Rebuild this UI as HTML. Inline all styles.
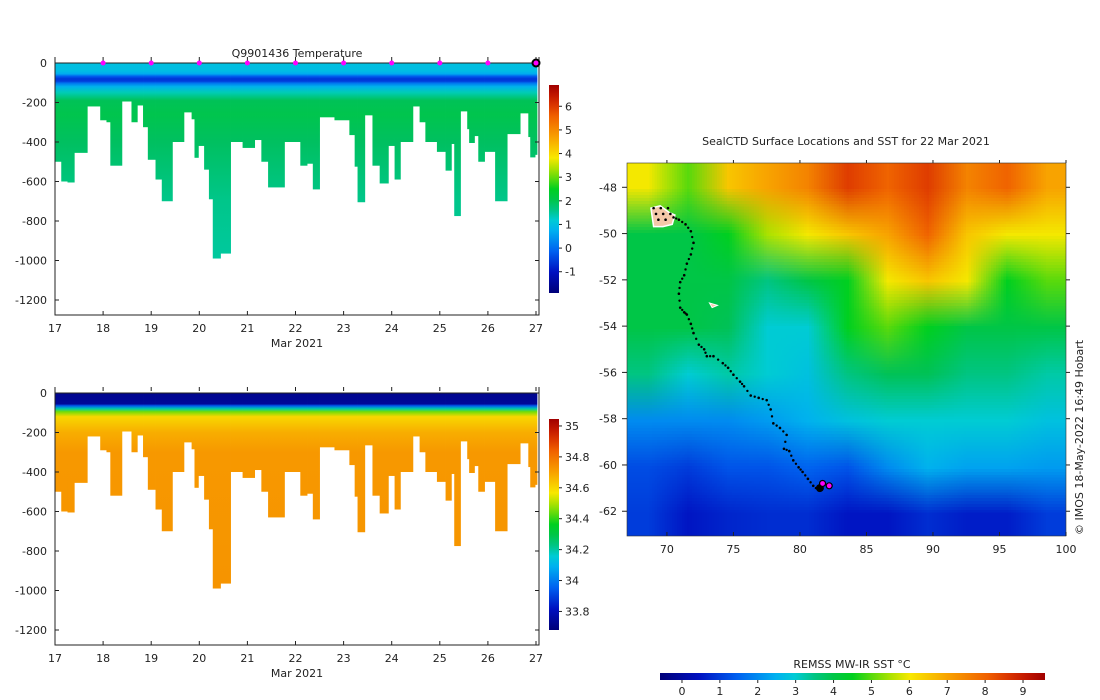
<!DOCTYPE html>
<html><head><meta charset="utf-8">
<style>
html,body{margin:0;padding:0;background:#fff;}
#wrap{position:relative;width:1100px;height:700px;overflow:hidden;font-family:"DejaVu Sans","Liberation Sans",sans-serif;}
svg{position:absolute;left:0;top:0;}
canvas{position:absolute;}
text{font-family:"DejaVu Sans","Liberation Sans",sans-serif;fill:#222;font-size:11px;}
</style></head>
<body>
<div id="wrap">
<canvas id="sst" width="11" height="8" style="left:627px;top:163px;width:439px;height:373px;"></canvas>
<svg id="fig" width="1100" height="700"></svg>
</div>
<script>
// ---- data ----
const profileStart=[17.00,17.13,17.26,17.40,17.67,17.94,18.07,18.15,18.39,18.59,18.71,18.83,18.93,19.09,19.22,19.44,19.68,19.84,19.90,19.98,20.10,20.20,20.28,20.44,20.65,20.90,21.15,21.29,21.43,21.77,22.10,22.24,22.36,22.50,22.81,23.12,23.23,23.29,23.44,23.60,23.75,23.93,24.06,24.18,24.44,24.58,24.70,24.94,25.12,25.24,25.30,25.43,25.57,25.61,25.72,25.80,25.93,26.15,26.40,26.67,26.84,26.88,26.98];
const profileEnd=27.02;
const profileDepth=[500,600,605,455,220,290,300,520,195,300,215,325,490,590,700,400,250,285,480,420,540,690,990,965,400,430,390,500,630,400,520,510,640,275,290,365,525,705,265,520,610,420,590,400,220,300,400,450,545,410,775,245,335,405,370,500,450,700,360,255,375,478,465];
const tempDepths=[0,40,55,68,80,92,102,120,150,190,260,400,700,1000];
const tempValues=[1.0,0.95,0.7,-0.2,-0.6,-0.5,0.1,0.8,1.4,1.9,2.0,1.8,1.6,1.5];
const salDepths=[0,55,65,80,95,120,200,300,1000];
const salValues=[33.72,33.74,33.95,34.2,34.45,34.6,34.68,34.72,34.73];
const dayTicks=[17,18,19,20,21,22,23,24,25,26,27];
const depthTicks=[0,-200,-400,-600,-800,-1000,-1200];
const tempCbTicks=[-1,0,1,2,3,4,5,6];
const salCbTicks=[33.8,34,34.2,34.4,34.6,34.8,35];
const surfaceDays=[18,19,20,21,22,23,24,25,26];
const lonTicks=[70,75,80,85,90,95,100];
const latTicks=[-48,-50,-52,-54,-56,-58,-60,-62];
const sstTicks=[0,1,2,3,4,5,6,7,8,9];
const sstGrid=[
[6,5,6.5,7,7.5,8.5,8,8.5,7.5,8,7],
[4,4,4.5,5.5,6,6.5,7,8,6.5,6,6],
[4,4,4,3.5,4,4.5,6,6.5,6,4.5,5],
[4,4,3.8,3,3,4.5,5,4.5,4,4,4],
[3.5,3,3.3,3,2.8,3.5,3.8,3.8,3.5,3.5,3.3],
[2,2,2,2.2,2.5,2.8,3,3,3,3,2.8],
[1.2,1,1.3,1.3,1.5,1.3,2,2.5,2.3,2.3,2.2],
[1,0.5,0.7,0.8,0.8,0.5,0.5,0.8,0.6,0.6,1]];
const trackLon=[70.5,70.9,71.4,71.8,72.0,71.8,71.5,71.3,71.0,70.9,71.0,71.3,71.5,71.8,72.0,72.4,72.8,73.0,73.5,74.2,74.6,75.0,75.5,75.8,76.3,76.9,77.5,77.8,78.0,78.5,79.0,78.8,79.2,79.5,79.9,80.2,80.6,81.0,81.4];
const trackLat=[-49.3,-49.4,-49.6,-49.9,-50.4,-50.9,-51.3,-51.8,-52.1,-52.6,-53.2,-53.4,-53.5,-53.9,-54.3,-54.8,-55.0,-55.3,-55.3,-55.6,-55.8,-56.1,-56.4,-56.6,-57.0,-57.1,-57.2,-57.6,-58.2,-58.4,-58.7,-59.3,-59.4,-59.8,-60.1,-60.3,-60.6,-60.9,-61.1];
const lastLon=[81.7,82.2];
const lastLat=[-60.8,-60.9];

// ---- helpers ----
const NS='http://www.w3.org/2000/svg';
const svg=document.getElementById('fig');
function mk(tag,attrs,parent){const e=document.createElementNS(NS,tag);for(const k in attrs)e.setAttribute(k,attrs[k]);(parent||svg).appendChild(e);return e;}
const stops=[[0,'#000078'],[0.1,'#0010c0'],[0.2,'#0060f0'],[0.3,'#00b0f0'],[0.36,'#00d0d0'],[0.42,'#00c060'],[0.5,'#00d020'],[0.58,'#90e000'],[0.65,'#f8e800'],[0.75,'#f8a000'],[0.85,'#f06000'],[0.93,'#d02000'],[1,'#a00000']];
function hex(c){return [parseInt(c.substr(1,2),16),parseInt(c.substr(3,2),16),parseInt(c.substr(5,2),16)];}
function cmap(t){t=Math.max(0,Math.min(1,t));for(let i=1;i<stops.length;i++){if(t<=stops[i][0]){const a=hex(stops[i-1][1]),b=hex(stops[i][1]);const f=(t-stops[i-1][0])/(stops[i][0]-stops[i-1][0]);return a.map((v,j)=>Math.round(v+(b[j]-v)*f));}}return hex(stops[stops.length-1][1]);}
function rgb(a){return 'rgb('+a.join(',')+')';}
const defs=mk('defs',{});

function depthPanel(opt){
  const L=55,R=539,y0=opt.y0,yb=opt.y0+252;
  const xs=d=>L+(d-17)*(R-3-L)/10;
  const ys=z=>y0+(-z)*(237/1200);
  const g=mk('g',{});
  const gid=opt.name+'-grad';
  const lg=mk('linearGradient',{id:gid,gradientUnits:'userSpaceOnUse',x1:0,y1:ys(0),x2:0,y2:ys(-1000)},defs);
  opt.depths.forEach((d,i)=>{mk('stop',{offset:d/1000,'stop-color':rgb(cmap((opt.vals[i]-opt.vmin)/(opt.vmax-opt.vmin)))},lg);});
  const cols=mk('g',{},g);
  profileStart.forEach((s,i)=>{
    const e=i+1<profileStart.length?profileStart[i+1]:profileEnd;
    const r=mk('rect',{x:xs(s),y:ys(0),width:xs(e)-xs(s)+0.4,height:ys(-profileDepth[i])-ys(0),fill:'url(#'+gid+')'},cols);
    
    
  });
  mk('path',{d:`M${L},${y0-6}V${yb}H${R}V${y0-6}`,fill:'none',stroke:'#222','stroke-width':1},g);
  mk('line',{x1:L,y1:y0,x2:R,y2:y0,stroke:'#222','stroke-width':1},g);
  depthTicks.forEach(t=>{const y=ys(t);
    mk('line',{x1:L,y1:y,x2:L+4,y2:y,stroke:'#222'},g);mk('line',{x1:R-4,y1:y,x2:R,y2:y,stroke:'#222'},g);
    const tx=mk('text',{x:L-8,y:y+4,'text-anchor':'end'},g);tx.textContent=t;
    });
  dayTicks.forEach(d=>{const x=xs(d);
    mk('line',{x1:x,y1:yb,x2:x,y2:yb-4,stroke:'#222'},g);mk('line',{x1:x,y1:y0-6,x2:x,y2:y0-2,stroke:'#222'},g);
    const tx=mk('text',{x:x,y:yb+17,'text-anchor':'middle'},g);tx.textContent=d;
    });
  const xl=mk('text',{x:297,y:yb+32,'text-anchor':'middle'},g);xl.textContent='Mar 2021';
  
  const cb=mk('g',{},g);
  const cy0=opt.cbTop,cy1=opt.cbBot;
  const cgid=opt.name+'-cb';
  const clg=mk('linearGradient',{id:cgid,x1:0,y1:1,x2:0,y2:0},defs);
  for(let i=0;i<=20;i++)mk('stop',{offset:i/20,'stop-color':rgb(cmap(i/20))},clg);
  mk('rect',{x:549,y:cy0,width:10,height:cy1-cy0,fill:'url(#'+cgid+')'},cb);
  const cbv=v=>cy1-(v-opt.vmin)/(opt.vmax-opt.vmin)*(cy1-cy0);
  opt.cbTicks.forEach(t=>{const y=cbv(t);
    mk('line',{x1:559,y1:y,x2:562,y2:y,stroke:'#222'},cb);
    const tx=mk('text',{x:565,y:y+4},cb);tx.textContent=t;
    });
  return {xs,ys,g};
}
const tempPanel=depthPanel({name:'temperature-panel',y0:63,depths:tempDepths,vals:tempValues,vmin:-1.9,vmax:6.9,cbTop:85,cbBot:293,cbTicks:tempCbTicks});
const tt=mk('text',{x:297,y:57,'text-anchor':'middle'});tt.textContent='Q9901436  Temperature';

surfaceDays.forEach(d=>{const c=mk('circle',{cx:tempPanel.xs(d),cy:63,r:2.5,fill:'#ff00ff'},tempPanel.g);
  });
const lm=mk('circle',{cx:tempPanel.xs(27),cy:63,r:3.5,fill:'#ff00ff',stroke:'#000','stroke-width':2},tempPanel.g);

depthPanel({name:'salinity-panel',y0:393,depths:salDepths,vals:salValues,vmin:33.68,vmax:35.045,cbTop:419,cbBot:630,cbTicks:salCbTicks});

// ---- map ----
const sstCanvas=document.getElementById('sst');const ctx=sstCanvas.getContext('2d');
const img=ctx.createImageData(11,8);
const sMin=-0.58,sMax=9.58;
sstGrid.forEach((row,r)=>row.forEach((v,c)=>{const col=cmap((v-sMin)/(sMax-sMin));const k=(r*11+c)*4;img.data[k]=col[0];img.data[k+1]=col[1];img.data[k+2]=col[2];img.data[k+3]=255;}));
ctx.putImageData(img,0,0);
const mx=lon=>627+(lon-67)*(439/33);
const my=lat=>163+(-46.95-lat)*(373/16.12);
const mg=mk('g',{});
const mt=mk('text',{x:846,y:145,'text-anchor':'middle'},mg);mt.textContent='SealCTD Surface Locations and SST for 22 Mar 2021';

mk('rect',{x:627,y:163,width:439,height:373,fill:'none',stroke:'#333','stroke-width':0.6},mg);
lonTicks.forEach(t=>{const x=mx(t);mk('line',{x1:x,y1:536,x2:x,y2:532,stroke:'#222'},mg);mk('line',{x1:x,y1:163,x2:x,y2:160,stroke:'#222'},mg);
  const tx=mk('text',{x:x,y:553,'text-anchor':'middle'},mg);tx.textContent=t;
  });
latTicks.forEach(t=>{const y=my(t);mk('line',{x1:622,y1:y,x2:627,y2:y,stroke:'#222'},mg);mk('line',{x1:1066,y1:y,x2:1070,y2:y,stroke:'#222'},mg);
  const tx=mk('text',{x:617,y:y+4,'text-anchor':'end'},mg);tx.textContent=t;
  });
const isl=mk('path',{d:`M${mx(68.8)},${my(-48.9)} L${mx(69.5)},${my(-48.8)} L${mx(70.2)},${my(-49.1)} L${mx(70.6)},${my(-49.2)} L${mx(70.4)},${my(-49.6)} L${mx(69.7)},${my(-49.7)} L${mx(69.0)},${my(-49.7)} Z`,fill:'#f4c8a8',stroke:'#fff','stroke-width':1.5},mg);

const isl2=mk('path',{d:`M${mx(73.2)},${my(-53.0)} L${mx(73.8)},${my(-53.1)} L${mx(73.4)},${my(-53.2)} Z`,fill:'#f4c8a8',stroke:'#fff','stroke-width':1},mg);

for(let i=0;i<8;i++){const c=mk('circle',{cx:mx(69+i*0.18),cy:my(-48.9-(i%3)*0.25),r:1.3,fill:'#000'},mg);}
trackLon.forEach((lon,i)=>{
  const c=mk('circle',{cx:mx(lon),cy:my(trackLat[i]),r:1.3,fill:'#000'},mg);
  
  if(i+1<trackLon.length){const c2=mk('circle',{cx:mx((lon+trackLon[i+1])/2),cy:my((trackLat[i]+trackLat[i+1])/2),r:1.2,fill:'#000'},mg);
  }
});
const cl=mk('circle',{cx:mx(81.5),cy:my(-61.0),r:4,fill:'#000'},mg);
lastLon.forEach((lon,i)=>{const c=mk('circle',{cx:mx(lon),cy:my(lastLat[i]),r:3,fill:'#ff00ff',stroke:'#000','stroke-width':1.2},mg);
  });
const cp=mk('text',{x:1083,y:535,transform:'rotate(-90 1083 535)','font-size':'10'},mg);cp.textContent='© IMOS 18-May-2022 16:49 Hobart';

const scb=mk('g',{});
const sgr=mk('linearGradient',{id:'sstcb',x1:0,y1:0,x2:1,y2:0},defs);
for(let i=0;i<=20;i++)mk('stop',{offset:i/20,'stop-color':rgb(cmap(i/20))},sgr);
mk('rect',{x:660,y:673,width:385,height:7,fill:'url(#sstcb)'},scb);
const sx=v=>660+(v-sMin)/(sMax-sMin)*385;
sstTicks.forEach(t=>{mk('line',{x1:sx(t),y1:680,x2:sx(t),y2:683,stroke:'#222'},scb);
  const tx=mk('text',{x:sx(t),y:695,'text-anchor':'middle','font-size':'10'},scb);tx.textContent=t;
  });
const st=mk('text',{x:852,y:668,'text-anchor':'middle'},scb);st.textContent='REMSS MW-IR SST °C';

</script>
</body></html>
